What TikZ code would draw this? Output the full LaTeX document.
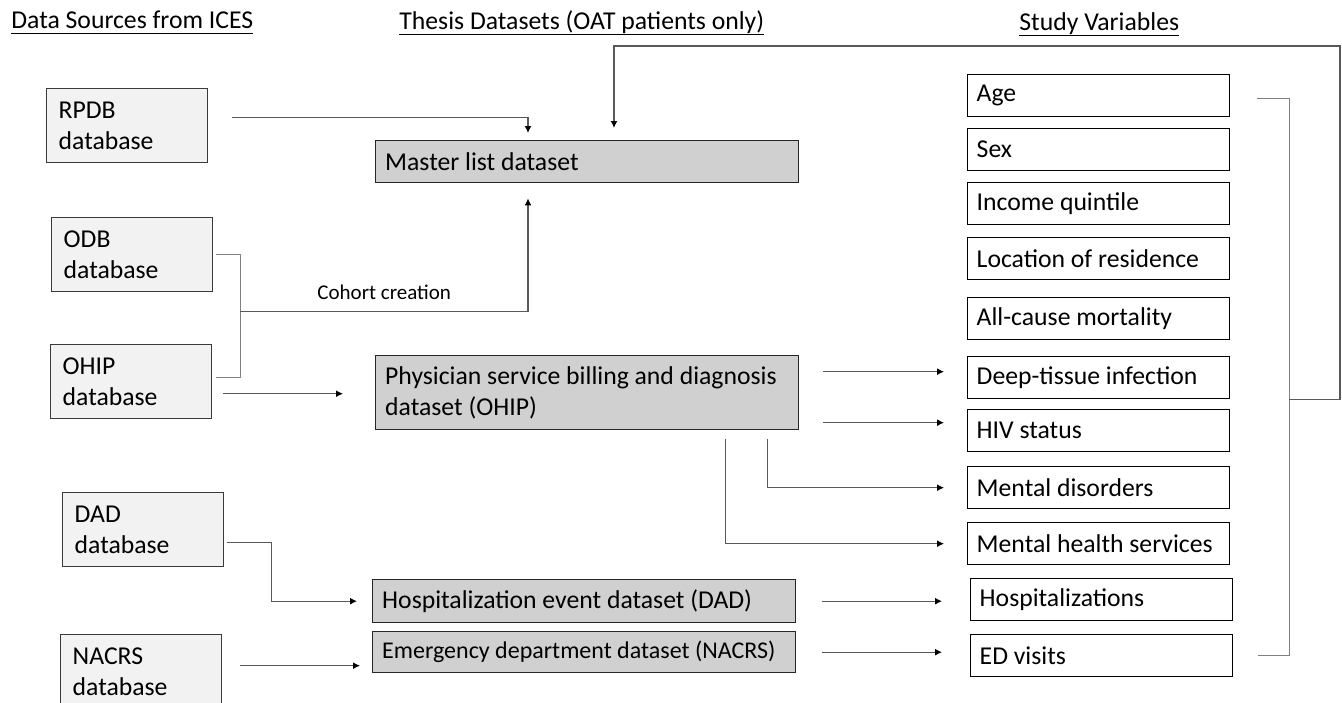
\documentclass[tikz,border=0pt]{standalone}
\usepackage{fontspec}
\setmainfont{Carlito}
\usetikzlibrary{arrows.meta}

\definecolor{srcfill}{HTML}{F2F2F2}
\definecolor{setfill}{HTML}{D0D0D0}
\definecolor{linkgray}{HTML}{808080}
\definecolor{boxedge}{HTML}{3A3A3A}

% underlined column heading
\newsavebox{\hdbox}
\newcommand{\hdul}[1]{\sbox{\hdbox}{#1}\rlap{\rule[-3pt]{\wd\hdbox}{0.6pt}}\usebox{\hdbox}}

\tikzset{
  every node/.style={font=\fontsize{12.85}{15.5}\selectfont},
  heading/.style={anchor=base west, inner sep=0pt},
  srcbox/.style={draw=boxedge, line width=0.7pt, fill=srcfill, anchor=north west,
    align=flush left, text width=68.5pt, inner xsep=6pt, inner ysep=0pt, minimum height=37pt},
  setbox/.style={draw=black!85, line width=0.7pt, fill=setfill, anchor=north west,
    align=flush left, text width=202pt, inner xsep=4.75pt, inner ysep=0pt},
  varbox/.style={draw=black, line width=0.7pt, fill=white, anchor=north west,
    align=flush left, text width=122pt, inner xsep=4.5pt, inner ysep=0pt, minimum height=21pt},
  link/.style={draw=linkgray, line width=0.6pt},
  arr/.style={draw=black!65, line width=0.6pt, -{Latex[length=3.5pt,width=3.5pt,color=black]}},
}

\begin{document}
\begin{tikzpicture}[x=0.5pt,y=-0.5pt]
\useasboundingbox (0,0) rectangle (1342,702);
\clip (0,0) rectangle (1342,702);

% column headings
\node[heading] (hsrc) at (11,28) {\hdul{Data Sources from ICES}};
\node[heading] (hset) at (399,29) {\hdul{Thesis Datasets (OAT patients only)}};
\node[heading] (hvar) at (1019,30) {\hdul{Study Variables}};

% ICES databases
\node[srcbox] (rpdb) at (46,88) {RPDB\\database};
\node[srcbox] (odb) at (51,217) {ODB\\database};
\node[srcbox] (ohip) at (50,344) {OHIP\\database};
\node[srcbox] (dad) at (62,492) {DAD\\database};
\node[srcbox] (nacrs) at (60,634) {NACRS\\database};

% thesis datasets
\node[setbox, minimum height=21pt] (master) at (375,140) {Master list dataset};
\node[setbox, minimum height=37pt] (phys) at (375,355) {Physician service billing and diagnosis\\dataset (OHIP)};
\node[setbox, minimum height=21.5pt] (hosp) at (372,579) {Hospitalization event dataset (DAD)};
\node[setbox, minimum height=20.5pt, font=\fontsize{12}{14}\selectfont] (emerg) at (372,631) {Emergency department dataset (NACRS)};

% study variables
\node[varbox] (age) at (967,74) {Age};
\node[varbox] (sex) at (967,128) {Sex};
\node[varbox] (inc) at (967,182) {Income quintile};
\node[varbox] (loc) at (967,237) {Location of residence};
\node[varbox] (mort) at (967,297) {All-cause mortality};
\node[varbox] (deep) at (967,356) {Deep-tissue infection};
\node[varbox] (hiv) at (967,409) {HIV status};
\node[varbox] (mdis) at (967,466) {Mental disorders};
\node[varbox] (mhs) at (967,522) {Mental health services};
\node[varbox] (hospv) at (970,578) {Hospitalizations};
\node[varbox] (edv) at (970,634) {ED visits};

% cohort creation
\draw[arr] ([xshift=12pt,yshift=4pt]rpdb.east) -| ([xshift=76.5pt,yshift=3.5pt]master.north west);
\draw[link] ([xshift=1.5pt]odb.east) -- ++(12pt,0) coordinate (join) |- ([xshift=2pt,yshift=2pt]ohip.east);
\draw[arr] ([yshift=-28.5pt]join) -| ([xshift=76.5pt,yshift=-7.5pt]master.south west)
  node[pos=0.25, above=5.5pt, inner sep=0pt, font=\fontsize{10.5}{12}\selectfont] {Cohort creation};
\draw[arr, shorten >=16pt] ([xshift=5.5pt,yshift=-6pt]ohip.east) coordinate (oc) -- (oc -| phys.west);
\draw[arr] ([xshift=1.5pt,yshift=-6.5pt]dad.east) -- ++(22pt,0) |- ([xshift=-7.5pt]hosp.west);
\draw[arr, shorten >=6pt] ([xshift=9pt,yshift=3pt]nacrs.east) coordinate (nc) -- (nc -| emerg.west);

% datasets to variables
\draw[arr, shorten >=11.5pt] ([xshift=12pt,yshift=10.5pt]phys.east) coordinate (p1) -- (p1 -| deep.west);
\draw[arr, shorten >=11.5pt] ([xshift=12pt,yshift=-15pt]phys.east) coordinate (p2) -- (p2 -| hiv.west);
\draw[arr] ([xshift=-16pt,yshift=-4.5pt]phys.south east) |- ([xshift=-11.5pt]mdis.west);
\draw[arr] ([xshift=-37pt,yshift=-4.5pt]phys.south east) |- ([xshift=-11.5pt]mhs.west);
\draw[arr, shorten >=14pt] ([xshift=13pt]hosp.east) coordinate (hc) -- (hc -| hospv.west);
\draw[arr, shorten >=14pt] ([xshift=13pt]emerg.east) coordinate (ec) -- (ec -| edv.west);

% variables back to the master list
\coordinate (fbtop) at (1340,46);
\draw[link] ([xshift=13.5pt,yshift=-1.5pt]age.east) -- ++(16pt,0) coordinate (brk) |- ([xshift=12.5pt]edv.east);
\draw[arr] (brk |- deep.south) -| (fbtop) -| ([xshift=119.5pt,yshift=6pt]master.north west);
\end{tikzpicture}
\end{document}
